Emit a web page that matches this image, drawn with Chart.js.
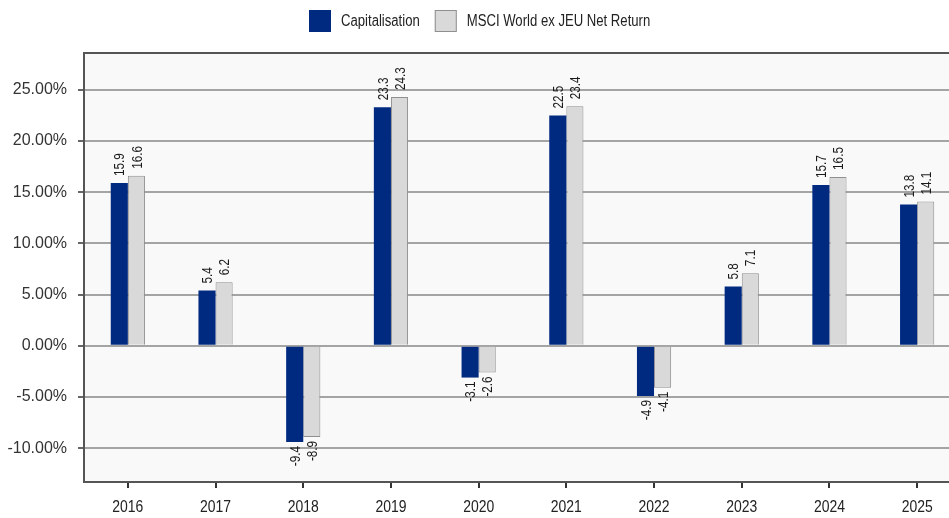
<!DOCTYPE html>
<html>
<head>
<meta charset="utf-8">
<script src="https://cdn.jsdelivr.net/npm/chart.js@4.4.1/dist/chart.umd.min.js"></script>
<style>
    html, body { margin: 0; padding: 0; background: #fff; overflow: hidden; }
    #wrap { width: 962px; height: 518px; }
</style>
</head>
<body>
<div id="wrap"><canvas id="perfChart" width="962" height="518"></canvas></div>
<script>
// Annual performance data
const years = ['2016', '2017', '2018', '2019', '2020', '2021', '2022', '2023', '2024', '2025'];
const capitalisation = [15.9, 5.4, -9.4, 23.3, -3.1, 22.5, -4.9, 5.8, 15.7, 13.8];
const msciWorld = [16.6, 6.2, -8.9, 24.3, -2.6, 23.4, -4.1, 7.1, 16.5, 14.1];
const yTicks = [-10, -5, 0, 5, 10, 15, 20, 25];

const plainFont = '"Liberation Sans", Arial, sans-serif';
const NARROW = 0.82; // no narrow face installed, squeeze the plain one

function narrowText(ctx, text, x, y, squeeze) {
    ctx.save();
    ctx.translate(x, y);
    ctx.scale(squeeze || NARROW, 1);
    ctx.fillText(text, 0, 0);
    ctx.restore();
}

// Plot background and top border
const plotFrame = {
    id: 'plotFrame',
    beforeDraw(chart) {
        const { ctx, chartArea } = chart;
        ctx.save();
        ctx.fillStyle = '#f9f9f9';
        ctx.fillRect(chartArea.left, chartArea.top, chartArea.right - chartArea.left, chartArea.bottom - chartArea.top);
        ctx.restore();
    },
    afterDraw(chart) {
        const { ctx, chartArea } = chart;
        ctx.save();
        ctx.strokeStyle = '#555';
        ctx.lineWidth = 2;
        ctx.beginPath();
        ctx.moveTo(chartArea.left, chartArea.top);
        ctx.lineTo(chartArea.right, chartArea.top);
        ctx.stroke();
        ctx.restore();
    }
};

// Legend and year labels in a condensed look
const narrowLabels = {
    id: 'narrowLabels',
    afterDraw(chart) {
        const ctx = chart.ctx;
        ctx.save();
        ctx.font = '16px ' + plainFont;
        ctx.fillStyle = '#222';
        ctx.textBaseline = 'middle';
        ctx.textAlign = 'left';

        // legend
        const items = chart.data.datasets.map(ds => ({
            text: ds.label,
            fill: ds.backgroundColor,
            stroke: ds.borderWidth ? ds.borderColor : ds.backgroundColor,
            w: ctx.measureText(ds.label).width * NARROW
        }));
        const boxSize = 22, gap = 10, spacing = 15;
        let total = 0;
        items.forEach((it, i) => { total += boxSize + gap + it.w + (i ? spacing : 0); });
        let x = Math.round(480 - total / 2);
        items.forEach(it => {
            ctx.fillStyle = it.fill;
            ctx.fillRect(x, 10, boxSize, boxSize);
            ctx.strokeStyle = it.stroke;
            ctx.lineWidth = 1;
            ctx.strokeRect(x + 0.5, 10.5, boxSize - 1, boxSize - 1);
            ctx.fillStyle = '#222';
            narrowText(ctx, it.text, x + boxSize + gap, 22);
            x += boxSize + gap + it.w + spacing;
        });

        // x axis years
        const xScale = chart.scales.x;
        ctx.textAlign = 'center';
        ctx.font = '17px ' + plainFont;
        chart.data.labels.forEach((lbl, i) => {
            narrowText(ctx, lbl, xScale.getPixelForTick(i), 507);
        });
        ctx.restore();
    }
};

// Rotated value labels above / below each bar
const barLabels = {
    id: 'barLabels',
    afterDatasetsDraw(chart) {
        const ctx = chart.ctx;
        ctx.save();
        ctx.font = '15px ' + plainFont;
        ctx.fillStyle = '#1a1a1a';
        ctx.textBaseline = 'middle';
        chart.data.datasets.forEach((ds, i) => {
            chart.getDatasetMeta(i).data.forEach((bar, j) => {
                const v = ds.data[j];
                ctx.save();
                if (v >= 0) {
                    ctx.translate(bar.x + 1, bar.y - 7);
                    ctx.textAlign = 'left';
                } else {
                    ctx.translate(bar.x + 1, bar.y + 4);
                    ctx.textAlign = 'right';
                }
                ctx.rotate(-Math.PI / 2);
                narrowText(ctx, v.toFixed(1), 0, 0, 0.78);
                ctx.restore();
            });
        });
        ctx.restore();
    }
};

const ctx = document.getElementById('perfChart').getContext('2d');
new Chart(ctx, {
    type: 'bar',
    data: {
        labels: years,
        datasets: [{
            label: 'Capitalisation',
            data: capitalisation,
            backgroundColor: '#002a80',
            borderColor: '#002a80',
            borderWidth: 0,
            categoryPercentage: 0.39,
            barPercentage: 1
        }, {
            label: 'MSCI World ex JEU Net Return',
            data: msciWorld,
            backgroundColor: '#d9d9d9',
            borderColor: '#8f8f8f',
            borderWidth: 1,
            categoryPercentage: 0.39,
            barPercentage: 1
        }]
    },
    options: {
        responsive: false,
        animation: false,
        layout: { padding: { top: 53, left: 0, right: 1, bottom: 0 } },
        plugins: {
            tooltip: { enabled: false },
            legend: { display: false }
        },
        scales: {
            x: {
                afterFit(scale) { scale.height = 36; },
                grid: {
                    offset: false,
                    drawOnChartArea: false,
                    drawTicks: true,
                    tickLength: 6,
                    color: '#333',
                    lineWidth: 2
                },
                border: { display: true, color: '#555', width: 2 },
                ticks: { display: false }
            },
            y: {
                min: -13.3,
                max: 28.6,
                afterFit(scale) { scale.width = 84; },
                afterBuildTicks(axis) {
                    axis.ticks = yTicks.map(v => ({ value: v }));
                },
                grid: {
                    color: '#a4a4a4',
                    lineWidth: 2,
                    tickLength: 6,
                    tickColor: '#666'
                },
                border: { display: true, color: '#555', width: 2 },
                ticks: {
                    color: '#333',
                    padding: 11,
                    font: { family: plainFont, size: 16 },
                    callback: v => v.toFixed(2) + '%'
                }
            }
        }
    },
    plugins: [plotFrame, barLabels, narrowLabels]
});
</script>
</body>
</html>
